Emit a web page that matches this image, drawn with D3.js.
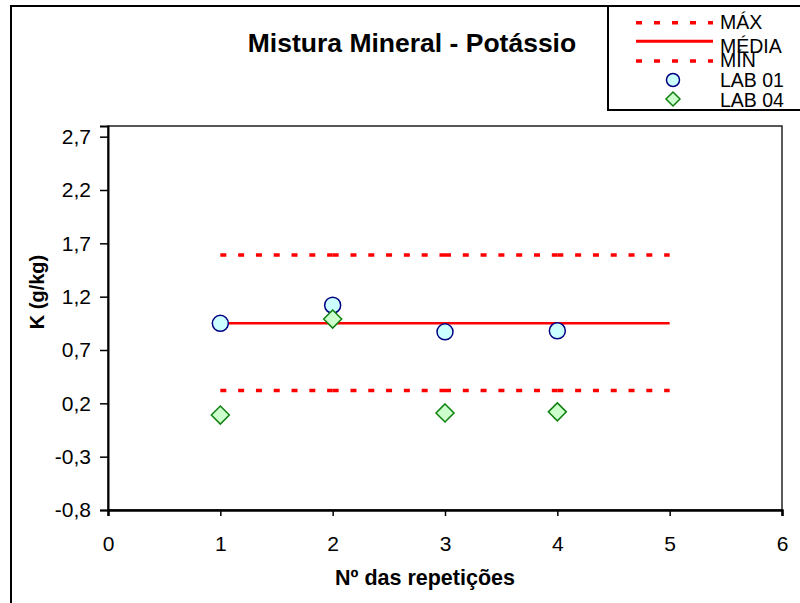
<!DOCTYPE html>
<html>
<head>
<meta charset="utf-8">
<script src="https://cdn.jsdelivr.net/npm/d3@7"></script>
<style>
  body { margin: 0; background: #fff; }
  svg text { font-family: "Liberation Sans", Arial, sans-serif; }
</style>
</head>
<body>
<div id="chart"></div>
<script>
// Dados do gráfico
const repeticoes = [1, 2, 3, 4];
const lab01 = [0.95, 1.12, 0.87, 0.88];
const lab04 = [0.09, 0.99, 0.11, 0.12];
const limiteX = [1, 2, 3, 4, 5];
const valorMax = 1.59;
const valorMedia = 0.95;
const valorMin = 0.32;
const yTicks = [-0.8, -0.3, 0.2, 0.7, 1.2, 1.7, 2.2, 2.7];
const xTicks = [0, 1, 2, 3, 4, 5, 6];

const W = 800, H = 603;
const margin = {top: 126, right: 18, bottom: 93, left: 108};
const width = W - margin.left - margin.right;
const height = H - margin.top - margin.bottom;

const svg = d3.select('#chart').append('svg')
    .attr('width', W)
    .attr('height', H);

// Moldura externa
svg.append('path')
    .attr('d', `M11,${H} L11,6 L608,6`)
    .attr('fill', 'none')
    .attr('stroke', '#000')
    .attr('stroke-width', 2);

const g = svg.append('g')
    .attr('transform', `translate(${margin.left},${margin.top})`);

// Escalas
const x = d3.scaleLinear().domain([0, 6]).range([0, width]);
const y = d3.scaleLinear().domain([-0.8, 2.8]).range([height, 0]);

// Borda da área do gráfico
g.append('rect')
    .attr('width', width)
    .attr('height', height)
    .attr('fill', 'none')
    .attr('stroke', '#222')
    .attr('stroke-width', 1.5);

// Eixos (vírgula decimal e hífen como sinal)
const fmt = d => d.toFixed(1).replace('.', ',');
const yAxis = g.append('g')
    .call(d3.axisLeft(y).tickValues(yTicks).tickSize(8).tickFormat(fmt));
yAxis.select('.domain').attr('stroke-width', 2);
yAxis.selectAll('line').attr('stroke-width', 1.5);
yAxis.selectAll('text')
    .style('font-size', '21px')
    .attr('fill', '#000')
    .attr('x', -17);

const xAxis = g.append('g')
    .attr('transform', `translate(0,${height})`)
    .call(d3.axisBottom(x).tickValues(xTicks).tickSize(6).tickFormat(d3.format('d')));
xAxis.select('.domain').attr('stroke-width', 2.5);
xAxis.selectAll('line').attr('stroke-width', 1.5);
xAxis.selectAll('text')
    .style('font-size', '21px')
    .attr('fill', '#000')
    .attr('y', 26);

// Títulos
svg.append('text')
    .attr('x', 412)
    .attr('y', 52)
    .attr('text-anchor', 'middle')
    .style('font-size', '26.5px')
    .style('font-weight', 'bold')
    .text('Mistura Mineral - Potássio');

svg.append('text')
    .attr('x', 425)
    .attr('y', 585)
    .attr('text-anchor', 'middle')
    .style('font-size', '21.5px')
    .style('font-weight', 'bold')
    .text('Nº das repetições');

svg.append('text')
    .attr('transform', 'translate(44,292) rotate(-90)')
    .attr('text-anchor', 'middle')
    .style('font-size', '20px')
    .style('font-weight', 'bold')
    .text('K (g/kg)');

// Linhas de referência (cada segmento com seu próprio tracejado)
function drawRef(valor, dashed) {
    for (let i = 0; i < limiteX.length - 1; i++) {
        g.append('line')
            .attr('x1', x(limiteX[i]))
            .attr('x2', x(limiteX[i + 1]))
            .attr('y1', y(valor))
            .attr('y2', y(valor))
            .attr('stroke', '#ff0000')
            .attr('stroke-width', dashed ? 3.5 : 2.5)
            .attr('stroke-dasharray', dashed ? '6,11.8' : null);
    }
}
drawRef(valorMax, true);
drawRef(valorMin, true);
drawRef(valorMedia, false);

// Pontos LAB 01
g.selectAll('.lab01')
    .data(repeticoes)
    .enter()
    .append('circle')
    .attr('cx', d => x(d))
    .attr('cy', (d, i) => y(lab01[i]))
    .attr('r', 8)
    .attr('fill', '#ccffff')
    .attr('stroke', '#000080')
    .attr('stroke-width', 1.5);

// Pontos LAB 04
const diamond = s => `M0,${-s} L${s},0 L0,${s} L${-s},0 Z`;
g.selectAll('.lab04')
    .data(repeticoes)
    .enter()
    .append('path')
    .attr('transform', (d, i) => `translate(${x(d)},${y(lab04[i])})`)
    .attr('d', diamond(9))
    .attr('fill', '#ccffcc')
    .attr('stroke', '#108010')
    .attr('stroke-width', 1.5);

// Legenda
const leg = svg.append('g');
leg.append('rect')
    .attr('x', 608).attr('y', 6)
    .attr('width', 200).attr('height', 104)
    .attr('fill', '#fff')
    .attr('stroke', '#000')
    .attr('stroke-width', 2);

const legItems = [
    {label: 'MÁX', type: 'dash', sy: 22.7, ty: 29},
    {label: 'MÉDIA', type: 'solid', sy: 41.3, ty: 53},
    {label: 'MÍN', type: 'dash', sy: 61, ty: 67},
    {label: 'LAB 01', type: 'circle', sy: 80, ty: 87},
    {label: 'LAB 04', type: 'diamond', sy: 99, ty: 107}
];
legItems.forEach(it => {
    if (it.type === 'dash' || it.type === 'solid') {
        leg.append('line')
            .attr('x1', 636).attr('x2', 713)
            .attr('y1', it.sy).attr('y2', it.sy)
            .attr('stroke', '#ff0000')
            .attr('stroke-width', it.type === 'dash' ? 3.5 : 3)
            .attr('stroke-dasharray', it.type === 'dash' ? '6,12' : null);
    } else if (it.type === 'circle') {
        leg.append('circle')
            .attr('cx', 673).attr('cy', it.sy).attr('r', 6.5)
            .attr('fill', '#ccffff').attr('stroke', '#000080').attr('stroke-width', 1.5);
    } else {
        leg.append('path')
            .attr('transform', `translate(673,${it.sy})`)
            .attr('d', diamond(7))
            .attr('fill', '#ccffcc').attr('stroke', '#108010').attr('stroke-width', 1.5);
    }
    leg.append('text')
        .attr('x', 720)
        .attr('y', it.ty)
        .style('font-size', '19.5px')
        .text(it.label);
});
</script>
</body>
</html>
